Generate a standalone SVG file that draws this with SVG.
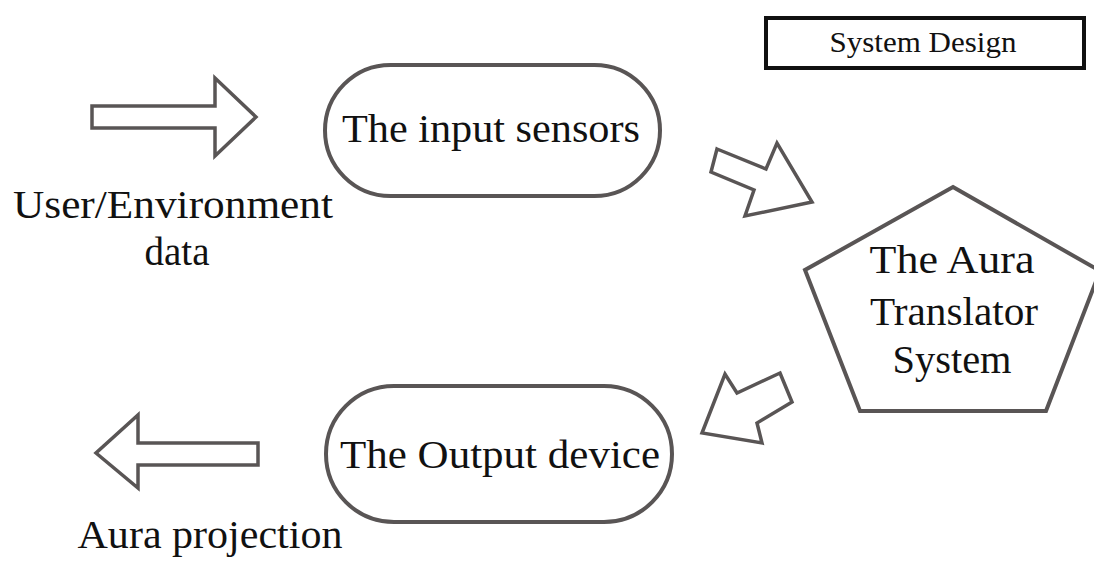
<svg xmlns="http://www.w3.org/2000/svg" width="1094" height="567" viewBox="0 0 1094 567">
<style>
  .shape { fill: #fff; stroke: #595555; stroke-width: 4; stroke-linejoin: miter; }
  .arrow { fill: #fff; stroke: #595555; stroke-width: 3.5; stroke-linejoin: miter; }
  .t { font-family: "Liberation Serif", "Times New Roman", serif; fill: #111; text-anchor: middle; }
  .big { font-size: 41px; }
</style>
<rect width="1094" height="567" fill="#fff"/>
<g id="title">
  <rect x="766" y="18" width="318" height="50" fill="#fff" stroke="#111" stroke-width="4"/>
  <text class="t" x="923" y="52" font-size="29" textLength="187" lengthAdjust="spacingAndGlyphs">System Design</text>
</g>
<g id="connectors">
  <polygon class="arrow" points="92,106 215,106 215,78 256,117 215,156 215,128 92,128"/>
  <polygon class="arrow" points="717,149 766,169 777,143 812,202 745,216 754,190 711,172"/>
  <polygon class="arrow" points="780,373 792,402 757,423 762,443 702,433 725,374 737,393"/>
  <polygon class="arrow" points="258,443 138,443 138,415 96,453 138,488 138,465 258,465"/>
</g>
<g id="user-data">
  <text class="t" x="173" y="218" font-size="39" textLength="320" lengthAdjust="spacingAndGlyphs">User/Environment</text>
  <text class="t" x="177" y="265" font-size="39">data</text>
</g>
<g id="input-sensors">
  <rect class="shape" x="325" y="65" width="335" height="131" rx="65.5"/>
  <text class="t big" x="491" y="142" textLength="298" lengthAdjust="spacingAndGlyphs">The input sensors</text>
</g>
<g id="aura-translator">
  <polygon class="shape" points="953,187 1100,271 1046,411 860,411 805,270"/>
  <text class="t big" x="952" y="273" textLength="165" lengthAdjust="spacingAndGlyphs">The Aura</text>
  <text class="t big" x="954" y="325" textLength="168" lengthAdjust="spacingAndGlyphs">Translator</text>
  <text class="t big" x="952" y="373" textLength="119" lengthAdjust="spacingAndGlyphs">System</text>
</g>
<g id="output-device">
  <rect class="shape" x="326" y="386" width="346" height="136" rx="68"/>
  <text class="t big" x="500" y="468" textLength="320" lengthAdjust="spacingAndGlyphs">The Output device</text>
</g>
<g id="aura-projection">
  <text class="t big" x="210" y="548" textLength="265" lengthAdjust="spacingAndGlyphs">Aura projection</text>
</g>
</svg>
